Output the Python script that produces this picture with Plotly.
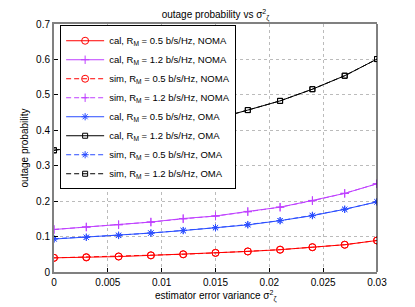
import plotly.graph_objects as go

x_vals = [0, 0.003, 0.006, 0.009, 0.012, 0.015, 0.018, 0.021, 0.024, 0.027, 0.03]

cal_noma_05 = [0.040, 0.041, 0.0435, 0.047, 0.050, 0.054, 0.058, 0.063, 0.070, 0.077, 0.089]
cal_noma_12 = [0.120, 0.127, 0.134, 0.141, 0.151, 0.158, 0.171, 0.183, 0.202, 0.222, 0.249]
sim_noma_05 = [0.040, 0.042, 0.044, 0.047, 0.050, 0.054, 0.058, 0.063, 0.070, 0.077, 0.089]
sim_noma_12 = [0.120, 0.127, 0.133, 0.141, 0.150, 0.158, 0.170, 0.183, 0.201, 0.222, 0.249]
cal_oma_05 = [0.093, 0.098, 0.103, 0.110, 0.117, 0.125, 0.133, 0.145, 0.159, 0.177, 0.198]
cal_oma_12 = [0.343, 0.357, 0.372, 0.390, 0.410, 0.432, 0.457, 0.483, 0.516, 0.554, 0.601]
sim_oma_05 = [0.094, 0.098, 0.104, 0.110, 0.117, 0.125, 0.134, 0.145, 0.160, 0.177, 0.198]
sim_oma_12 = [0.344, 0.357, 0.372, 0.390, 0.410, 0.432, 0.457, 0.483, 0.516, 0.554, 0.601]

x_ticks = [0, 0.005, 0.01, 0.015, 0.02, 0.025, 0.03]
x_tick_text = ["0", "0.005", "0.01", "0.015", "0.02", "0.025", "0.03"]
y_ticks = [0, 0.1, 0.2, 0.3, 0.4, 0.5, 0.6, 0.7]
y_tick_text = ["0", "0.1", "0.2", "0.3", "0.4", "0.5", "0.6", "0.7"]

series = [
    ("cal, R<sub>M</sub> = 0.5 b/s/Hz, NOMA", cal_noma_05, "#ff0000", "solid", "circle-open", 7),
    ("cal, R<sub>M</sub> = 1.2 b/s/Hz, NOMA", cal_noma_12, "#bf40ff", "solid", "cross-thin-open", 6),
    ("sim, R<sub>M</sub> = 0.5 b/s/Hz, NOMA", sim_noma_05, "#ff0000", "5px,3px", "circle-open", 7),
    ("sim, R<sub>M</sub> = 1.2 b/s/Hz, NOMA", sim_noma_12, "#bf40ff", "5px,3px", "cross-thin-open", 6),
    ("cal, R<sub>M</sub> = 0.5 b/s/Hz, OMA", cal_oma_05, "#2a4dff", "solid", "asterisk-open", 6),
    ("cal, R<sub>M</sub> = 1.2 b/s/Hz, OMA", cal_oma_12, "#000000", "solid", "square-open", 5),
    ("sim, R<sub>M</sub> = 0.5 b/s/Hz, OMA", sim_oma_05, "#2a4dff", "5px,3px", "asterisk-open", 6),
    ("sim, R<sub>M</sub> = 1.2 b/s/Hz, OMA", sim_oma_12, "#000000", "5px,3px", "square-open", 5),
]

fig = go.Figure()
for name, vals, color, dash, sym, size in series:
    fig.add_trace(go.Scatter(
        x=x_vals, y=vals, name=name, mode="lines+markers",
        line=dict(color=color, width=1, dash=dash),
        marker=dict(symbol=sym, size=size, color=color, line=dict(color=color, width=1)),
    ))

font = "Liberation Sans, Arial, Helvetica, sans-serif"
fig.update_layout(
    width=399, height=299,
    margin=dict(l=46, r=30, t=16, b=35, autoexpand=False),
    paper_bgcolor="white", plot_bgcolor="white",
    font=dict(family=font, size=10, color="#000000"),
    title=dict(text="outage probability vs σ<sup>2</sup><sub>ζ</sub>", xref="paper", x=0.5,
               xanchor="center", yref="container", y=0.99, yanchor="top",
               pad=dict(t=0, b=0), font=dict(size=10)),
    showlegend=True,
    legend=dict(x=0.019, y=0.995, xanchor="left", yanchor="top",
                bgcolor="white", bordercolor="#000000", borderwidth=1,
                font=dict(size=9.5), tracegroupgap=0, itemwidth=38),
    xaxis=dict(range=[0, 0.03], tickvals=x_ticks, ticktext=x_tick_text, automargin=False,
               showgrid=True, gridcolor="#bbbbbb", griddash="dot", gridwidth=1,
               showline=True, linecolor="#808080", linewidth=2, mirror=True,
               ticks="inside", ticklen=4, tickcolor="#000000", zeroline=False),
    yaxis=dict(range=[0, 0.7], tickvals=y_ticks, ticktext=y_tick_text, automargin=False,
               showgrid=True, gridcolor="#bbbbbb", griddash="dot", gridwidth=1,
               showline=True, linecolor="#808080", linewidth=2, mirror=False,
               ticks="inside", ticklen=4, tickcolor="#000000", zeroline=False,
               title=dict(text="outage probability", standoff=6, font=dict(size=10))),
)
fig.add_annotation(text="estimator error variance σ<sup>2</sup><sub>ζ</sub>", xref="paper", yref="paper",
                   x=0.5, y=0, xanchor="center", yanchor="top", yshift=-15, showarrow=False,
                   font=dict(size=10))
fig.add_shape(type="line", xref="paper", yref="paper", x0=1, x1=1, y0=0, y1=1,
              line=dict(color="#000000", width=1))

fig.write_html("out.html")
